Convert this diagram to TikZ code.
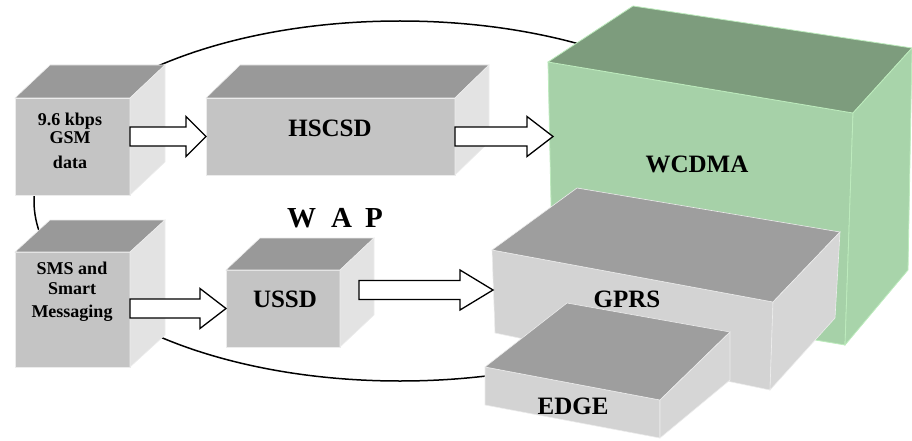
\documentclass[tikz,border=0pt]{standalone}
\usepackage{fontspec}
\setmainfont{Liberation Serif}
\usetikzlibrary{calc}

\definecolor{frontgray}{HTML}{C4C4C4}
\definecolor{topgray}{HTML}{999999}
\definecolor{sidegray}{HTML}{E3E3E3}
\definecolor{frontlight}{HTML}{D3D3D3}
\definecolor{toplight}{HTML}{9E9E9E}
\definecolor{sidelight}{HTML}{D6D6D6}
\definecolor{frontgreen}{HTML}{A6D1A8}
\definecolor{topgreen}{HTML}{7D9C7D}
\definecolor{sidegreen}{HTML}{A8D4AA}
\definecolor{edgegreen}{HTML}{BDEBBD}

\tikzset{
  frontface/.style={fill=frontgray, draw=white!85!gray, line width=0.6pt,
    inner sep=0pt, outer sep=0pt, anchor=north west},
  topface/.style={fill=topgray, draw=white!85!gray, line width=0.6pt},
  sideface/.style={fill=sidegray, draw=white!85!gray, line width=0.6pt},
  ring/.style={draw=black, line width=1.5pt},
  blockarr/.style={draw=black, fill=white, line width=1.3pt, line join=miter},
  lbl/.style={font=\bfseries\fontsize{25}{25}\selectfont, inner sep=0pt},
  smalllbl/.style={font=\bfseries\fontsize{18}{20}\selectfont, inner sep=0pt, align=center},
}

% top and right faces of a box whose front face is node #1, depth (#2,#3)
\newcommand{\boxfaces}[3]{%
  \path[topface] (#1.north west) -- (#1.north east) -- ++(#2,#3)
    -- ($(#1.north west)+(#2,#3)$) -- cycle;
  \path[sideface] (#1.north east) -- ++(#2,#3)
    -- ($(#1.south east)+(#2,#3)$) -- (#1.south east) -- cycle;
}

% outlined block arrow from #1 to tip #2, head length #3
\newcommand{\blockarrow}[3]{%
  \draw[blockarr] ($(#1)+(0,-9.5)$) -- ($(#2)+(-#3,-9.5)$) -- ($(#2)+(-#3,-20)$)
    -- (#2) -- ($(#2)+(-#3,20)$) -- ($(#2)+(-#3,9.5)$) -- ($(#1)+(0,9.5)$) -- cycle;
}

\begin{document}
\begin{tikzpicture}[x=1pt, y=-1pt]
\useasboundingbox (0,0) rectangle (912,441);

% evolution ring behind all the boxes
\draw[ring] (400,201) ellipse [x radius=366pt, y radius=180pt];

% 9.6 kbps GSM data
\node[frontface, minimum width=115pt, minimum height=97pt] (gsm) at (15,98) {};
\boxfaces{gsm}{35}{-33}
\node[smalllbl, font=\bfseries\fontsize{18}{18}\selectfont] (gsmtxt) at (70,141) {9.6 kbps\\GSM\\[7pt]data};

% SMS and Smart Messaging
\node[frontface, minimum width=115pt, minimum height=115pt] (sms) at (15,252) {};
\boxfaces{sms}{35}{-32}
\node[smalllbl] (smstxt) at (72,292) {SMS and\\Smart\\[3pt]Messaging};

% HSCSD
\node[frontface, minimum width=249pt, minimum height=77pt] (hscsd) at (206,98) {};
\boxfaces{hscsd}{34}{-33}
\node[lbl] (hscsdtxt) at (330,128) {HSCSD};

% USSD
\node[frontface, minimum width=114pt, minimum height=77pt] (ussd) at (226,270) {};
\boxfaces{ussd}{34}{-32}
\node[lbl] (ussdtxt) at (285,299) {USSD};

% WAP heading
\node[inner sep=0pt, font=\bfseries\fontsize{29}{29}\selectfont] (wap) at (335,218)
  {W\hspace{15pt}A\hspace{13pt}P};

% WCDMA
\path[fill=frontgreen, draw=edgegreen, line width=0.8pt]
  (548,62) -- (853,113) -- (845,345) -- (553,296) -- cycle;
\path[fill=topgreen, draw=edgegreen, line width=0.8pt]
  (548,62) -- (633,6) -- (912,48) -- (853,113) -- cycle;
\path[fill=sidegreen, draw=edgegreen, line width=0.8pt]
  (853,113) -- (912,48) -- (908,270) -- (845,345) -- cycle;
\node[lbl] (wcdma) at (697,164) {WCDMA};

% GPRS
\path[fill=frontlight, draw=white!85!gray, line width=0.6pt]
  (492,250) -- (773,302) -- (770,390) -- (495,333) -- cycle;
\path[fill=toplight, draw=white!85!gray, line width=0.6pt]
  (492,250) -- (577,188) -- (840,232) -- (773,302) -- cycle;
\path[fill=sidelight, draw=white!85!gray, line width=0.6pt]
  (773,302) -- (840,232) -- (835,318) -- (770,390) -- cycle;
\node[lbl] (gprs) at (627,299) {GPRS};

% EDGE
\path[fill=frontlight, draw=white!85!gray, line width=0.6pt]
  (485,367) -- (660,400) -- (660,438) -- (485,405) -- cycle;
\path[fill=toplight, draw=white!85!gray, line width=0.6pt]
  (485,367) -- (567,303) -- (730,332) -- (660,400) -- cycle;
\path[fill=sidelight, draw=white!85!gray, line width=0.6pt]
  (660,400) -- (730,332) -- (730,380) -- (660,438) -- cycle;
\node[lbl] (edge) at (573,406) {EDGE};

% arrow end points on the faces
\coordinate (wtip) at (553,136.5);
\coordinate (ussdout) at (359,290);
\coordinate (gtip) at (493,290);

% block arrows
\blockarrow{gsm.east |- hscsd.west}{hscsd.west}{20}
\blockarrow{hscsd.east}{wtip}{26}
\blockarrow{sms.east |- ussd.west}{ussd.west}{26}
\blockarrow{ussdout}{gtip}{33}
\end{tikzpicture}
\end{document}
